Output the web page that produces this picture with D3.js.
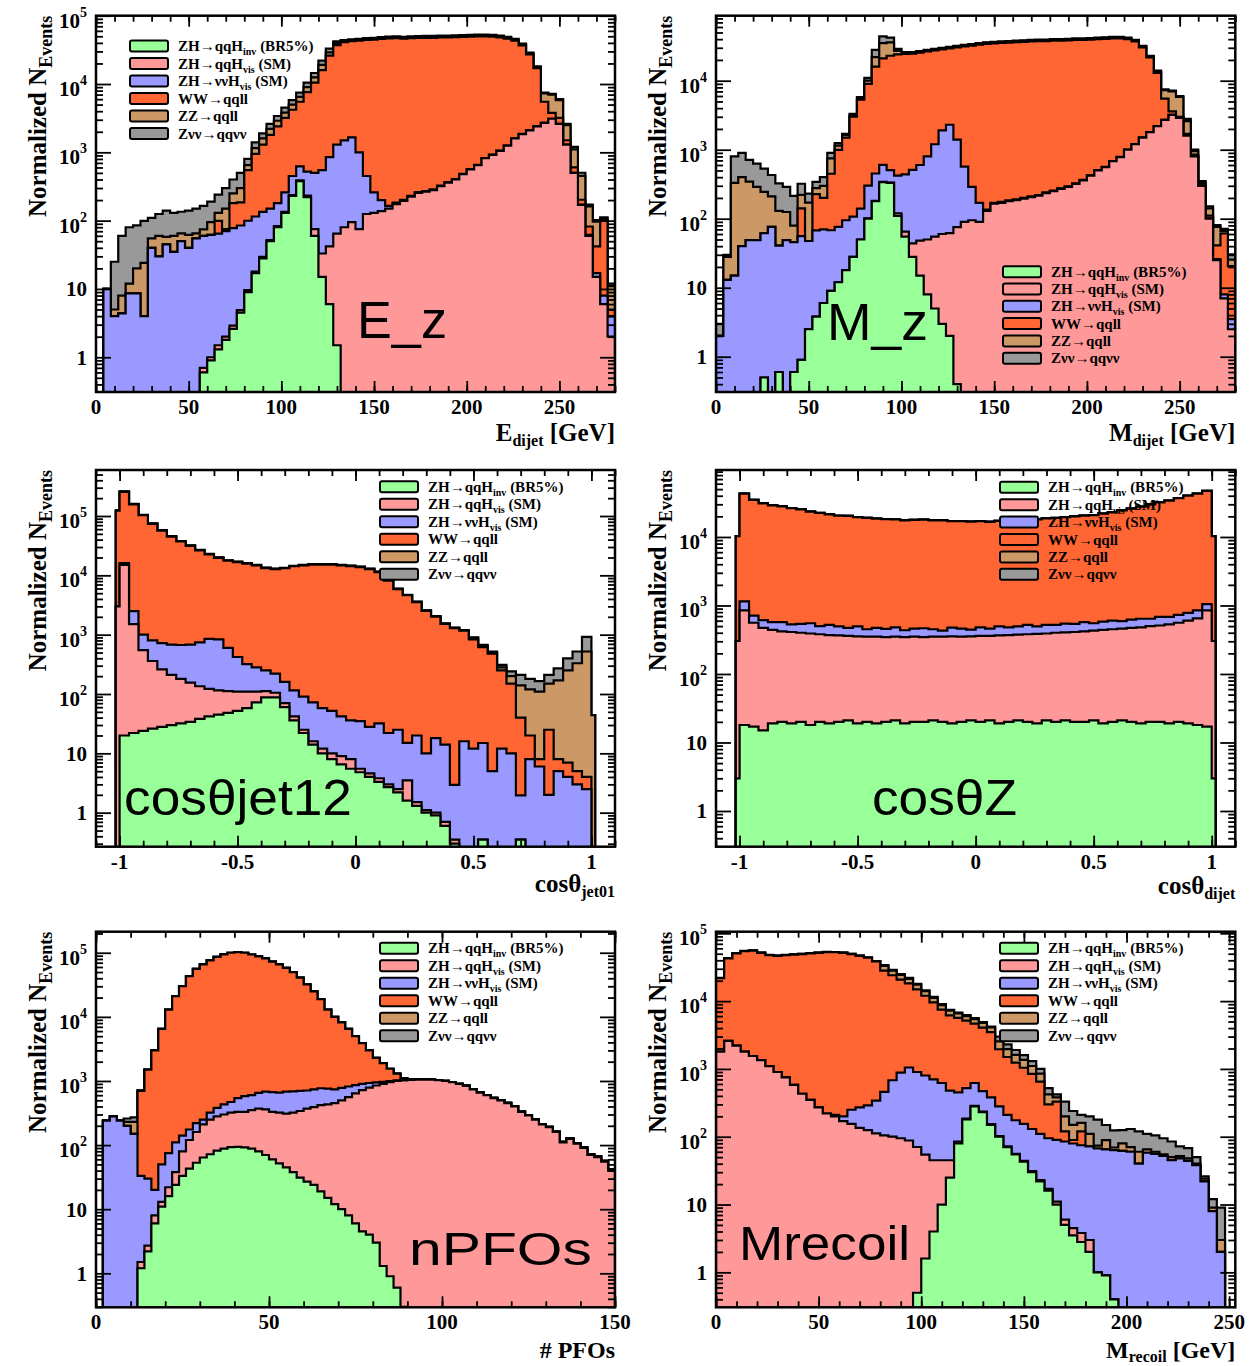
<!DOCTYPE html>
<html>
<head>
<meta charset="utf-8">
<script src="https://cdn.jsdelivr.net/npm/d3@7"></script>
<style>
  html, body { margin: 0; padding: 0; background: #fff; }
  svg { display: block; }
  .serif { font-family: "Liberation Serif", "Times New Roman", serif; font-weight: bold; }
</style>
</head>
<body>
<svg id="chart" width="1259" height="1366"></svg>
<script>
// ---- Sample names, colours, stacking order (bottom to top) ----
const sampleKeys = ["inv", "qqHvis", "vvHvis", "ww", "zz", "zvv"];
const sampleColors = ["#99ff99", "#ff9999", "#9999ff", "#ff6633", "#cc9966", "#999999"];
const legendEntries = [
  { main: "ZH→qqH", sub: "inv", tail: " (BR5%)" },
  { main: "ZH→qqH", sub: "vis", tail: " (SM)" },
  { main: "ZH→ννH", sub: "vis", tail: " (SM)" },
  { main: "WW→qqll", sub: "", tail: "" },
  { main: "ZZ→qqll", sub: "", tail: "" },
  { main: "Zνν→qqνν", sub: "", tail: "" }
];

// ---- E_dijet [GeV], 4 GeV bins from 0 to 280 ----
const eDijetInv = [0,0,0,0,0,0,0,0,0,0,0,0,0,0,
  0.6,0.9,1.3,1.8,2.6,4.5,9,17,28,50,80,130,230,380,220,60,15,6,1.5,
  0,0,0,0,0,0,0,0,0,0,0,0,0,0,0,0,0,0,0,0,0,0,0,0,0,0,0,0,0,0,0,0,0,0,0,0,0];
const eDijetQqHvis = [0,0,0,0,0,0,0,0,0,0,0,0,0,0,
  0.1,0.1,0.2,0.2,0.3,0.4,0.6,1,1.5,2,3,4,6,8,12,15,18,36,63,80,95,75,125,130,138,150,
  175,195,225,255,265,280,320,360,400,480,560,650,820,920,1050,1250,1600,1850,2100,2400,
  2700,3100,2600,1300,500,170,60,15,6,2];
const eDijetVvHvis = [0,10,4,4.4,8.6,8.6,4,40,30,45,35,50,40,55,59,61,63,68,75,80,
  90,97,105,98,97,126,214,234,288,425,517,808,1236,1420,1555,925,325,130,62,15,8,
  6,6,6,6,6,6,6,6,6,6,6,6,6,6,6,6,6,6,6,
  2,2,2,2,2,2,2,2,2,2];
const eDijetWW = [0,0,0,0,0,0,0,0,0,0,0,0,0,0,0,0,
  35,5,102,100,450,835,1165,1650,2220,2940,3750,4880,7080,10000,15450,25150,35700,39500,
  40600,42200,43700,44400,45400,46300,46800,45900,46800,47100,47200,47200,47600,47900,
  48000,48400,48800,49100,49000,48400,46900,44800,41600,34800,25100,14600,
  2800,690,600,200,100,30,20,25,94,1];
const eDijetZZ = [0,0,1,3.6,3.4,11.4,20,15,30,13,25,15,22,10,15,33,30,75,70,115,
  100,200,300,400,500,600,800,1000,1400,2000,3000,3000,3000,2000,
  1350,1380,1410,1430,1460,1490,1500,1490,1500,1500,1520,1530,1530,1530,1550,1560,
  1580,1590,1590,1580,1530,1470,1380,1170,870,540,
  1800,3200,2600,1000,500,250,80,55,5,6];
const eDijetZvv = [0,0,20,52,68,65,75,55,65,82,70,70,78,85,90,95,110,150,150,200,
  150,250,300,400,500,700,800,1000,1500,2000,3000,4000,2000,1000,
  1300,1350,1380,1400,1420,1450,1480,1460,1470,1480,1500,1510,1500,1510,1520,1540,
  1550,1560,1570,1550,1500,1450,1350,1150,850,540,
  200,200,200,100,100,50,10,5,5,1];

// ---- M_dijet [GeV], 4 GeV bins from 0 to 280 ----
const mDijetInv = [0,0,0,0,0,0,0.5,0,0.6,0,
  0.6,0.9,2.5,3.8,6,9,12,18,28,50,100,180,340,330,110,55,28,15,8,5,3,2,0.4,
  0,0,0,0,0,0,0,0,0,0,0,0,0,0,0,0,0,0,0,0,0,0,0,0,0,0,0,0,0,0,0,0,0,0,0,0,0];
const mDijetQqHvis = [0,0,0,0,0,0,0,0,0,0,0,0,0,0,0,0,0,0,0,0,
  1,2,3,5,10,10,16,33,42,50,57,60,75,90,95,90,130,165,170,180,
  185,195,205,215,235,250,270,290,320,360,420,500,560,680,780,1000,1200,1500,1800,2200,
  2700,3200,2900,1600,800,300,100,25,7,2.5];
const mDijetVvHvis = [2,13,15,40,49,49,61,76,40,49,45,55,45,64,64,59,64,77,79,90,
  200,270,260,170,300,375,466,552,750,1145,1840,2238,1325,480,195,80,
  5,5,5,5,5,5,5,5,5,5,5,5,5,5,5,5,5,5,5,5,5,5,5,5,5,
  1,1,1,1,1,1,1,1,1];
const mDijetWW = [0,0,0,0,0,0,0,0,0,0,0,
  85,0,160,130,380,920,1400,2900,5160,8700,15550,20400,22500,23580,24060,
  24200,25000,25800,26400,26600,27200,29000,30800,32000,33100,34100,34500,35000,35400,
  35900,36400,36800,37300,37300,37700,37700,38200,38600,38600,39000,39400,39800,40200,
  40100,38900,35800,28900,20000,10800,2800,400,100,100,50,20,10,15,53,17];
const mDijetZZ = [0,15,315,360,296,241,184,134,89,76,34,80,124,50,100,300,150,150,150,200,
  1000,6000,14000,13000,3000,1000,780,810,840,870,900,930,960,990,1020,1050,1080,1100,
  1110,1120,1140,1150,1170,1180,1180,1200,1200,1210,1230,1230,1240,1260,1270,1290,1290,
  1260,1170,960,690,500,1800,3400,2800,900,100,10,30,35,5,5];
const mDijetZvv = [1,2,470,500,365,340,285,220,195,165,135,100,60,65,100,150,100,50,150,300,
  1000,6000,9000,6000,2000,500,520,540,560,580,600,620,640,660,680,700,720,730,
  740,750,760,770,780,790,790,800,800,810,820,820,830,840,850,860,860,
  840,780,640,460,500,200,200,200,200,50,20,10,5,5,5];

// ---- cos(theta_jet01): narrow edge bins plus 0.04 bins from -1 to 1 ----
const cosJetInv = [0,20,22,24,26,28,30,32,34,38,42,45,48,52,58,72,88,88,60,36,22,14,10,8,
  6.5,5.5,4.8,4,3.3,2.7,2.2,1.6,1.3,1.0,0.9,0.6,0.3,0,0,0.35,0,0,0,0.35,0,0,0,0,0,0,0,0];
const cosJetQqHvis = [3000,15000,1480,526,334,232,180,148,121,97,80,70,64,58,52,38,24,17,10,6,3,
  2,2,2,2.5,2.5,0.7,0.6,0.5,0.3,0.3,1.9,0.2,0.1,0.1,0.1,0.05,
  0,0,0,0,0,0,0,0,0,0,0,0,0,0,0];
const cosJetVvHvis = [0,1000,1000,450,440,460,470,490,525,605,728,715,488,310,210,170,138,115,90,73,65,
  56,46,42,33,28,29.5,23.4,28.2,19,22.5,11.5,18.5,8.9,17,13.3,2.6,16,12,14.6,5,
  12,10,1.6,8,6,2,5,4,3,2.5,0];
const cosJetWW = [120000,239000,154500,102000,72700,56100,44300,36500,30700,25700,21700,
  18800,17000,16300,15400,14400,13000,12500,13000,14100,14600,
  15100,15100,15100,14700,14200,13700,12700,11300,8100,5850,
  4600,3500,2500,2000,1500,1280,1150,818,600,475,238,140,38,12,2,23,3,3,2,1.5,0];
const cosJetZZ = [0,2600,1600,1000,750,580,460,380,320,270,230,200,180,170,160,150,135,130,135,145,150,
  155,155,155,150,145,140,130,115,80,60,50,40,30,25,20,15,15,50,40,20,
  30,50,100,100,102,125,162,243,325,516,44];
const cosJetZvv = [0,2500,1550,980,740,570,450,370,310,260,220,190,175,165,155,145,130,125,130,140,145,
  150,150,150,145,140,135,125,110,75,55,45,35,28,22,18,14,14,20,20,20,
  30,40,70,60,55,60,100,150,190,400,0];

// ---- cos(theta_dijet): narrow edge bins plus 0.04 bins from -1 to 1 ----
const cosDijetInv = [3,18,17,15,19,20,19,20,18,20,19,20,21,19,20,19,20,21,19,20,20,
  21,20,19,20,21,20,21,19,20,21,20,19,21,20,21,20,20,21,19,20,
  21,20,19,20,20,19,20,19,18,17,3];
const cosDijetQqHvis = [300,832,543,455,421,400,391,380,372,360,351,345,339,336,330,331,325,329,326,330,325,
  329,330,336,330,334,340,339,346,350,354,360,366,369,380,384,390,400,409,421,430,
  439,450,461,480,490,511,540,581,632,833,300];
const cosDijetVvHvis = [0,300,150,140,130,150,120,140,160,120,150,130,110,140,100,120,110,130,90,110,120,
  100,80,120,110,90,120,100,130,110,120,140,110,130,120,140,130,150,120,140,150,
  130,150,160,140,170,150,170,180,200,200,0];
const cosDijetWW = [10000,41800,34200,30300,28400,27400,25900,24800,22900,21900,20900,
  19900,19800,18900,18500,18000,17700,17500,17000,17300,17500,
  17000,17100,16500,16500,16300,16500,16200,16700,16700,17000,
  17200,17500,18100,18400,18900,19400,19900,20200,21400,22300,
  23900,25300,27000,29300,31300,33300,36200,39200,42100,45900,10000];
const cosDijetZZ = [0,40,35,32,30,30,28,28,27,27,26,26,25,25,25,24,24,24,24,24,24,
  24,24,24,24,24,24,24,24,24,24,24,24,25,25,25,26,26,27,27,28,
  29,30,31,32,34,36,38,40,44,48,0];
const cosDijetZvv = [0,20,18,17,16,16,15,15,15,14,14,14,14,14,13,13,13,13,13,13,13,
  13,13,13,13,13,13,13,13,13,13,13,13,13,14,14,14,14,15,15,15,
  16,16,17,17,18,19,20,21,22,24,0];

// ---- number of PFOs, bins of 2 from 0 to 150 ----
const nPfoInv = [0,0,0,0,0,0,
  1.2,2.2,6,11,16,24,33,43,53,64,72,82,88,93,94,92,88,80,70,60,52,45,38,31,27,24,19,15,12,10,
  8,6,4.5,4,3,1.3,0.9,0.6,0.3,
  0,0,0,0,0,0,0,0,0,0,0,0,0,0,0,0,0,0,0,0,0,0,0,0,0,0,0,0,0,0];
const nPfoQqHvis = [0,0,0,0,0,0,
  0.3,0.5,2,2,6,14,47,77,107,146,178,198,212,227,236,238,262,290,290,270,
  268,265,282,309,343,366,401,415,438,490,552,634,715,786,847,899,959,999,1020,1040,
  1050,1050,1050,1030,1000,960,900,840,740,660,600,540,500,450,400,
  330,290,250,210,190,160,110,125,105,90,70,65,55,40];
const nPfoVvHvis = [0,240,280,240,200,150,31.5,27.3,12,37,53,72,60,55,60,40,70,100,130,150,210,
  250,250,280,320,340,340,370,370,360,340,350,350,330,290,280,260,220,180,140,100,
  70,40,20,20,10,8,6,5,
  4,4,4,4,4,4,4,4,4,4,4,4,
  2,2,2,2,2,2,2,2,2,2,2,2,2,2];
const nPfoWW = [0,0,0,0,0,0,
  667,1470,2980,6450,12900,20900,29900,42800,55800,65700,75700,85600,93600,99500,101500,
  99400,93400,87300,81300,72300,65300,57300,49300,40300,31300,24300,18200,12200,9260,7420,
  5680,4140,3000,2070,1350,930,550,280,60,20,10,
  0,0,0,0,0,0,0,0,0,0,0,0,0,0,0,0,0,0,0,0,0,0,0,0,0,0,0,0];
const nPfoZZ = [0,0,0,0,30,80,10,5,
  0,0,0,0,0,0,0,0,0,0,0,0,0,0,0,0,0,0,0,0,0,0,0,0,0,0,0,0,0,0,0,0,0,0,0,0,0,0,0,0,0,0,
  0,0,0,0,0,0,0,0,0,0,0,0,0,0,0,0,0,0,0,0,0,0,0,0,0,0,0];
const nPfoZvv = [0,0,0,0,30,40,5,2,
  0,0,0,0,0,0,0,0,0,0,0,0,0,0,0,0,0,0,0,0,0,0,0,0,0,0,0,0,0,0,0,0,0,0,0,0,0,0,0,0,0,0,
  0,0,0,0,0,0,0,0,0,0,0,0,0,0,0,0,0,0,0,0,0,0,0,0,0,0,0];

// ---- M_recoil [GeV], 4 GeV bins from 0 to 252 ----
const mRecoilInv = [0,0,0,0,0,0,0,0,0,0,0,0,0,0,0,0,0,0,0,0,0,0,0,0,
  0.5,1.6,4,10,25,80,180,280,230,150,100,70,55,43,30,22,16,10,5,3.5,2.8,2,1,0.9,0.4,
  0,0,0,0,0,0,0,0,0,0,0,0,0,0];
const mRecoilQqHvis = [1800,2600,2200,1800,1550,1350,1100,900,750,580,430,350,270,220,200,170,
  155,135,125,112,105,100,95,88,70,53,41,35,20,5,5,5,5,3,2,2,1,1,1,1,1,1,1,1,1,1,
  0,0,0,0,0,0,0,0,0,0,0,0,0,0,0,0,0];
const mRecoilVvHvis = [0,0,0,0,0,0,0,0,0,0,0,0,0,0,
  10,30,95,135,165,228,355,580,785,962,830,745,655,575,435,365,335,335,235,227,178,
  138,119,111,99,87,78,79,79,75,71,69,66,64,63,62,60,40,58,56,52,45,48,44,38,22,8,2,0];
const mRecoilWW = [20000,40000,48300,52700,53900,50200,46500,45700,46800,47900,49000,
  50100,51200,52300,52300,51300,49200,46200,43300,38300,27700,23400,19900,17200,14000,11200,
  8850,6850,5700,5190,4630,4030,3600,3110,1670,1290,1060,885,715,540,205,240,35,10,45,
  0,0,0,0,0,0,0,0,0,0,0,0,0,0,0,0,0,0];
const mRecoilZZ = [110,215,255,275,280,260,240,235,240,245,250,255,260,265,265,260,250,235,220,195,
  4760,4060,3500,3080,2520,2030,1610,1260,1050,950,870,780,690,590,600,460,380,320,260,200,
  120,50,80,60,40,38,7,24,6,18,10,20,7,4,3,5,4,4,2,2,1,1,0];
const mRecoilZvv = [110,215,255,275,280,260,240,235,240,245,250,255,260,265,265,260,250,235,220,195,
  1000,870,750,660,540,440,350,270,225,200,190,170,150,125,450,345,285,240,195,150,
  100,40,130,90,50,90,105,60,55,45,60,60,45,45,40,35,20,20,10,2,3,6,0];

// ---- panel layout ----
const cosEdges = [-1.016].concat(d3.range(51).map(i => -1 + i * 0.04), [1.016]);
const panels = [
  { id: "edijet", left: 96, right: 615, top: 15.7, bottom: 392,
    xDomain: [0, 280], yDomain: [0.31, 1e5], edges: d3.range(0, 281, 4),
    xMajor: d3.range(0, 251, 50), xMinor: d3.range(0, 281, 10),
    series: [eDijetInv, eDijetQqHvis, eDijetVvHvis, eDijetWW, eDijetZZ, eDijetZvv],
    xTitle: [["E", 0], ["dijet", 1], [" [GeV]", 0]], xTitleY: 441,
    tag: { text: "E_z", x: 357, y: 338, len: 90, size: 51 },
    legend: { x: 130, y0: 46, step: 17.5 } },
  { id: "mdijet", left: 716, right: 1235.3, top: 15.7, bottom: 392,
    xDomain: [0, 280], yDomain: [0.308, 8.75e4], edges: d3.range(0, 281, 4),
    xMajor: d3.range(0, 251, 50), xMinor: d3.range(0, 281, 10),
    series: [mDijetInv, mDijetQqHvis, mDijetVvHvis, mDijetWW, mDijetZZ, mDijetZvv],
    xTitle: [["M", 0], ["dijet", 1], [" [GeV]", 0]], xTitleY: 441,
    tag: { text: "M_z", x: 827, y: 340, len: 101, size: 51 },
    legend: { x: 1003, y0: 271.7, step: 17.3 } },
  { id: "cosjet", left: 96, right: 615, top: 470, bottom: 846.7,
    xDomain: [-1.1, 1.1], yDomain: [0.267, 5.96e5], edges: cosEdges,
    xMajor: [-1, -0.5, 0, 0.5, 1], xMinor: d3.range(-11, 12).map(i => i / 10),
    series: [cosJetInv, cosJetQqHvis, cosJetVvHvis, cosJetWW, cosJetZZ, cosJetZvv],
    xTitle: [["cosθ", 0], ["jet01", 1]], xTitleY: 892,
    tag: { text: "cosθjet12", x: 124, y: 815, len: 228, size: 50 },
    legend: { x: 380, y0: 486.7, step: 17.5 } },
  { id: "cosdijet", left: 716, right: 1235.3, top: 470, bottom: 846.7,
    xDomain: [-1.1, 1.1], yDomain: [0.301, 9.5e4], edges: cosEdges,
    xMajor: [-1, -0.5, 0, 0.5, 1], xMinor: d3.range(-11, 12).map(i => i / 10),
    series: [cosDijetInv, cosDijetQqHvis, cosDijetVvHvis, cosDijetWW, cosDijetZZ, cosDijetZvv],
    xTitle: [["cosθ", 0], ["dijet", 1]], xTitleY: 894,
    tag: { text: "cosθZ", x: 872, y: 815, len: 145, size: 50 },
    legend: { x: 1000, y0: 487.3, step: 17.4 } },
  { id: "npfo", left: 96, right: 615, top: 931.7, bottom: 1307.3,
    xDomain: [0, 150], yDomain: [0.295, 2.13e5], edges: d3.range(0, 151, 2),
    xMajor: [0, 50, 100, 150], xMinor: d3.range(0, 151, 10),
    series: [nPfoInv, nPfoQqHvis, nPfoVvHvis, nPfoWW, nPfoZZ, nPfoZvv],
    xTitle: [["# PFOs", 0]], xTitleY: 1358, xTitleSize: 24,
    tag: { text: "nPFOs", x: 409, y: 1265, len: 183, size: 47 },
    legend: { x: 380, y0: 948.3, step: 17.5 } },
  { id: "mrecoil", left: 716, right: 1235.3, top: 931.7, bottom: 1307.3,
    xDomain: [0, 253], yDomain: [0.305, 1.056e5], edges: d3.range(0, 253, 4),
    xMajor: d3.range(0, 251, 50), xMinor: d3.range(0, 251, 10),
    series: [mRecoilInv, mRecoilQqHvis, mRecoilVvHvis, mRecoilWW, mRecoilZZ, mRecoilZvv],
    xTitle: [["M", 0], ["recoil", 1], [" [GeV]", 0]], xTitleY: 1358, xTitleSize: 24, subShift: 4,
    tag: { text: "Mrecoil", x: 739, y: 1260, len: 171, size: 49 },
    legend: { x: 1000, y0: 948.3, step: 17.5 } }
];

const svg = d3.select("#chart");
const defs = svg.append("defs");
const fmtTick = d => (d < 0 ? "-" : "") + String(Math.abs(d));

function styleAxis(sel) {
  sel.select(".domain").remove();
  sel.selectAll(".tick line").attr("stroke", "#000").attr("stroke-width", 1.8);
}

function drawPanel(p) {
  const g = svg.append("g");
  const x = d3.scaleLinear().domain(p.xDomain).range([p.left, p.right]);
  const y = d3.scaleLog().domain(p.yDomain).range([p.bottom, p.top]);

  // stacked histogram layers
  const rows = p.edges.slice(0, -1).map((e, i) => {
    const r = {};
    sampleKeys.forEach((k, j) => { r[k] = p.series[j][i] || 0; });
    return r;
  });
  const layers = d3.stack().keys(sampleKeys)(rows);

  defs.append("clipPath").attr("id", "clip-" + p.id)
    .append("rect").attr("x", p.left).attr("y", p.top)
    .attr("width", p.right - p.left).attr("height", p.bottom - p.top);

  const floorY = p.bottom + 6;
  const yPos = v => (v > 0 ? Math.min(y(v), floorY) : floorY);
  const stepPath = layer => {
    let d = `M${x(p.edges[0])},${floorY}`;
    layer.forEach((seg, i) => {
      const yy = yPos(seg[1]);
      d += `L${x(p.edges[i])},${yy}L${x(p.edges[i + 1])},${yy}`;
    });
    d += `L${x(p.edges[p.edges.length - 1])},${floorY}Z`;
    return d;
  };

  const hist = g.append("g").attr("clip-path", `url(#clip-${p.id})`);
  layers.slice().reverse().forEach(layer => {
    hist.append("path")
      .attr("d", stepPath(layer))
      .attr("fill", sampleColors[layer.index])
      .attr("stroke", "#000")
      .attr("stroke-width", 2.2)
      .attr("stroke-linejoin", "miter");
  });

  // distribution tag
  g.append("text")
    .attr("x", p.tag.x).attr("y", p.tag.y)
    .attr("font-family", "Liberation Sans, Arial, sans-serif")
    .attr("font-size", p.tag.size)
    .attr("textLength", p.tag.len).attr("lengthAdjust", "spacingAndGlyphs")
    .attr("fill", "#000")
    .text(p.tag.text);

  // legend
  legendEntries.forEach((entry, i) => {
    const cy = p.legend.y0 + i * p.legend.step;
    g.append("rect")
      .attr("x", p.legend.x).attr("y", cy - 5.5)
      .attr("width", 38).attr("height", 11).attr("rx", 2)
      .attr("fill", sampleColors[i]).attr("stroke", "#000").attr("stroke-width", 2);
    const t = g.append("text").attr("class", "serif")
      .attr("x", p.legend.x + 48).attr("y", cy + 5).attr("font-size", 15);
    t.append("tspan").text(entry.main);
    if (entry.sub) {
      t.append("tspan").attr("font-size", 10).attr("dy", 4).text(entry.sub);
      t.append("tspan").attr("dy", -4).text(entry.tail);
    }
  });

  // axes: ticks point into the frame on all four sides
  const decades = d3.range(-1, 7).map(e => Math.pow(10, e))
    .filter(v => v >= p.yDomain[0] && v <= p.yDomain[1]);
  const minorY = [];
  d3.range(-1, 6).forEach(e => d3.range(2, 10).forEach(m => {
    const v = m * Math.pow(10, e);
    if (v >= p.yDomain[0] && v <= p.yDomain[1]) minorY.push(v);
  }));

  const axes = [
    [d3.axisBottom(x).tickValues(p.xMinor).tickSize(-6), `translate(0,${p.bottom})`],
    [d3.axisBottom(x).tickValues(p.xMajor).tickSize(-11), `translate(0,${p.bottom})`],
    [d3.axisTop(x).tickValues(p.xMinor).tickSize(-6), `translate(0,${p.top})`],
    [d3.axisTop(x).tickValues(p.xMajor).tickSize(-11), `translate(0,${p.top})`],
    [d3.axisLeft(y).tickValues(minorY).tickSize(-7), `translate(${p.left},0)`],
    [d3.axisLeft(y).tickValues(decades).tickSize(-15), `translate(${p.left},0)`],
    [d3.axisRight(y).tickValues(minorY).tickSize(-7), `translate(${p.right},0)`],
    [d3.axisRight(y).tickValues(decades).tickSize(-15), `translate(${p.right},0)`]
  ];
  axes.forEach(([ax, tr]) => {
    g.append("g").attr("transform", tr).call(ax.tickFormat("")).call(styleAxis)
      .selectAll(".tick text").remove();
  });

  // x tick labels
  p.xMajor.forEach(v => {
    g.append("text").attr("class", "serif")
      .attr("x", x(v)).attr("y", p.bottom + 22)
      .attr("text-anchor", "middle").attr("font-size", 21)
      .text(fmtTick(v));
  });

  // y tick labels (powers of ten)
  decades.forEach(v => {
    const e = Math.round(Math.log10(v));
    const ty = y(v);
    const t = g.append("text").attr("class", "serif")
      .attr("x", p.left - 9).attr("text-anchor", "end").attr("font-size", 21);
    if (e <= 1) {
      t.attr("y", ty + 7.5).text(e === 0 ? "1" : "10");
    } else {
      t.attr("y", ty + 12);
      t.append("tspan").text("10");
      t.append("tspan").attr("font-size", 14).attr("dy", -11).text(e);
    }
  });

  // frame
  g.append("rect")
    .attr("x", p.left).attr("y", p.top)
    .attr("width", p.right - p.left).attr("height", p.bottom - p.top)
    .attr("fill", "none").attr("stroke", "#000").attr("stroke-width", 2.5);

  // y title
  const yt = g.append("text").attr("class", "serif")
    .attr("transform", `translate(${p.left - 50.5},${p.top}) rotate(-90)`)
    .attr("text-anchor", "end").attr("font-size", 25);
  yt.append("tspan").text("Normalized N");
  yt.append("tspan").attr("font-size", 18).attr("dy", 6).text("Events");

  // x title
  const shift = p.subShift || 5;
  const xt = g.append("text").attr("class", "serif")
    .attr("x", p.right).attr("y", p.xTitleY)
    .attr("text-anchor", "end").attr("font-size", p.xTitleSize || 25);
  let shifted = false;
  p.xTitle.forEach(([txt, isSub]) => {
    const ts = xt.append("tspan").text(txt);
    if (isSub) { ts.attr("font-size", 16).attr("dy", shift); shifted = true; }
    else if (shifted) { ts.attr("dy", -shift); shifted = false; }
  });
}

panels.forEach(drawPanel);
</script>
</body>
</html>
